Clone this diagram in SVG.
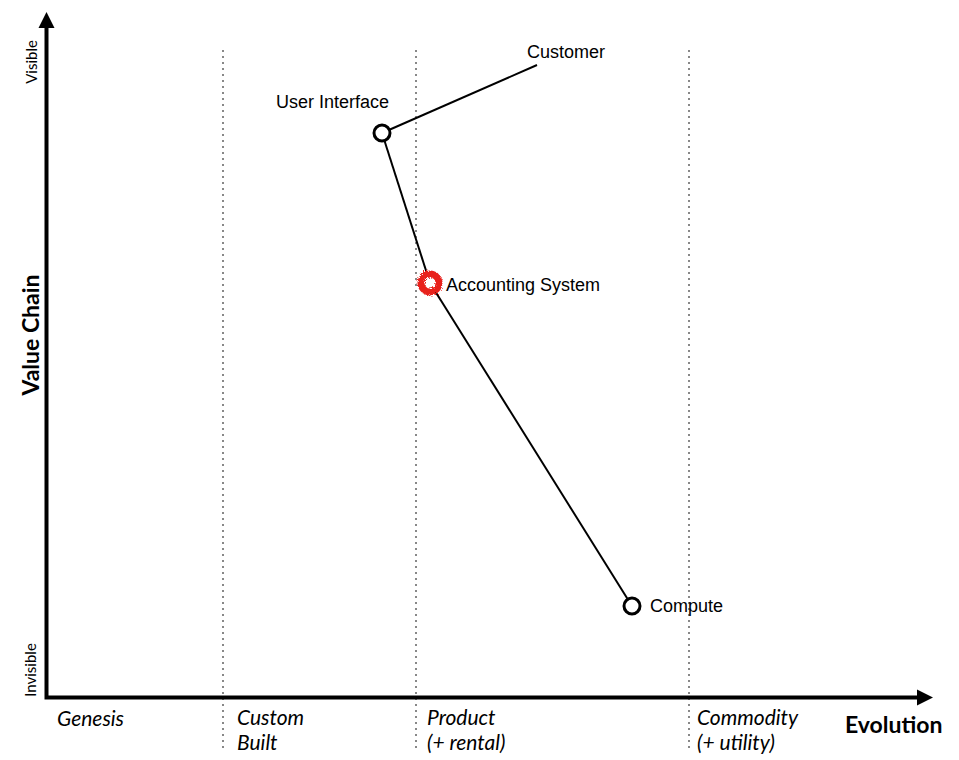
<svg xmlns="http://www.w3.org/2000/svg" width="959" height="760" viewBox="0 0 959 760">
  <style>
    .axis{stroke:#000;stroke-width:4;fill:none}
    .grid{stroke:#888;stroke-width:2;stroke-dasharray:2 4;fill:none}
    .link{stroke:#000;stroke-width:2;fill:none}
    .node{fill:#fff;stroke:#000;stroke-width:3}
    .lbl{font-family:"Liberation Sans",Arial,sans-serif;font-size:18px;fill:#000}
    .ax{font-family:Lato,"Open Sans",sans-serif;fill:#000}
    .stage{font-size:21px;font-style:italic}
    .title{font-size:23px;font-weight:bold}
    .end{font-size:15px}
  </style>
  <defs>
    <filter id="fuzz" x="-50%" y="-50%" width="200%" height="200%">
      <feTurbulence type="fractalNoise" baseFrequency="0.9" numOctaves="2" result="n"/>
      <feDisplacementMap in="SourceGraphic" in2="n" scale="6"/>
    </filter>
  </defs>
  <rect width="959" height="760" fill="#fff"/>
  <g id="grid">
    <line class="grid" x1="223" y1="50" x2="223" y2="752"/>
    <line class="grid" x1="416" y1="50" x2="416" y2="752"/>
    <line class="grid" x1="689" y1="50" x2="689" y2="752"/>
  </g>
  <g id="axes">
    <polyline class="axis" points="46.5,26 46.5,697.5 919,697.5"/>
    <polygon points="46.5,12 38.5,28 54.5,28" fill="#000"/>
    <polygon points="933,697.5 917,689.5 917,705.5" fill="#000"/>
    <text class="ax end" transform="translate(37,62) rotate(-90)" text-anchor="middle">Visible</text>
    <text class="ax end" transform="translate(36,670) rotate(-90)" text-anchor="middle">Invisible</text>
    <text class="ax title" transform="translate(39,335) rotate(-90)" text-anchor="middle">Value Chain</text>
    <text class="ax title" x="845" y="733">Evolution</text>
    <text class="ax stage" x="57" y="726">Genesis</text>
    <text class="ax stage" x="237" y="725">Custom</text>
    <text class="ax stage" x="237" y="750">Built</text>
    <text class="ax stage" x="427" y="725">Product</text>
    <text class="ax stage" x="427" y="750">(+ rental)</text>
    <text class="ax stage" x="697" y="725">Commodity</text>
    <text class="ax stage" x="697" y="750">(+ utility)</text>
  </g>
  <g id="connectors">
    <line class="link" x1="537" y1="65" x2="382" y2="133"/>
    <line class="link" x1="382" y1="133" x2="430" y2="283"/>
    <line class="link" x1="430" y1="283" x2="632" y2="606"/>
  </g>
  <g id="customer">
    <text class="lbl" x="527" y="58">Customer</text>
  </g>
  <g id="user-interface">
    <circle class="node" cx="382" cy="133" r="8"/>
    <text class="lbl" x="276" y="108">User Interface</text>
  </g>
  <g id="accounting-system">
    <circle cx="430" cy="283" r="9" fill="#fff" stroke="#e8201c" stroke-width="7" filter="url(#fuzz)"/>
    <text class="lbl" x="446" y="291">Accounting System</text>
  </g>
  <g id="compute">
    <circle class="node" cx="632" cy="606" r="8"/>
    <text class="lbl" x="650" y="612">Compute</text>
  </g>
</svg>
